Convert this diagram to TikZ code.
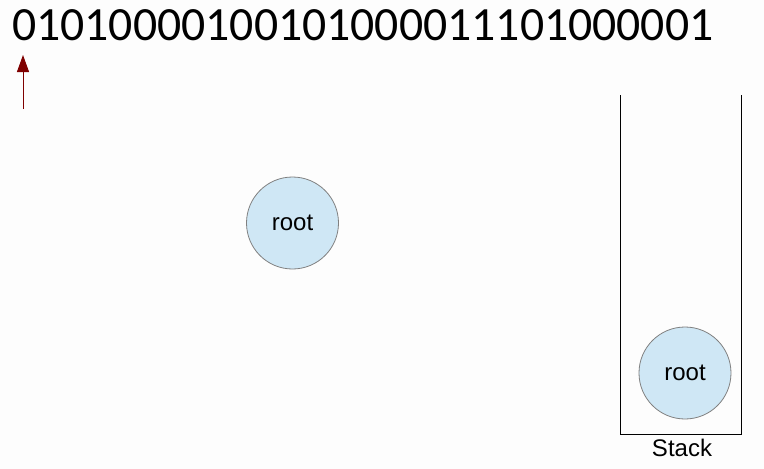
\documentclass[tikz,border=0pt]{standalone}
\usepackage{fontspec}
\setmainfont{Liberation Sans}
\newfontfamily\bitsfont{Carlito}
\usetikzlibrary{arrows.meta}
\usetikzlibrary{positioning}

\definecolor{nodeblue}{HTML}{CFE7F5}
\definecolor{pointerred}{HTML}{7F0000}
\definecolor{paper}{HTML}{FDFDFD}

\begin{document}
\begin{tikzpicture}[x=1pt,y=-1pt,
    treenode/.style={circle,draw=gray,fill=nodeblue,line width=0.8pt,minimum size=92pt,inner sep=0pt,font=\fontsize{24}{28}\selectfont}]
    \fill[paper] (0,0) rectangle (764,469);
    \useasboundingbox (0,0) rectangle (764,469);
    \node[anchor=base west,inner sep=0pt,font=\bitsfont\fontsize{47.7}{56}\selectfont] (bits) at (12,40.5) {01010000100101000011101000001};
    \coordinate (p0) at (23,109);
    \coordinate (p1) at (23,55);
    \draw[pointerred,line width=1pt,-{Triangle[length=17pt,width=12pt]}] (p0) -- (p1);
    \node[treenode] (root) at (292.5,223) {root};
    \draw[line width=1pt] (620,95) coordinate (s1) -- (620,434) coordinate (s2) -- (741,434) coordinate (s3) -- (741,95) coordinate (s4);
    \node[treenode] (top) at (685,373) {root};
    \node[anchor=base,inner sep=0pt,font=\fontsize{24}{28}\selectfont] (stack) at (682,456) {Stack};
  \end{tikzpicture}
\end{document}
